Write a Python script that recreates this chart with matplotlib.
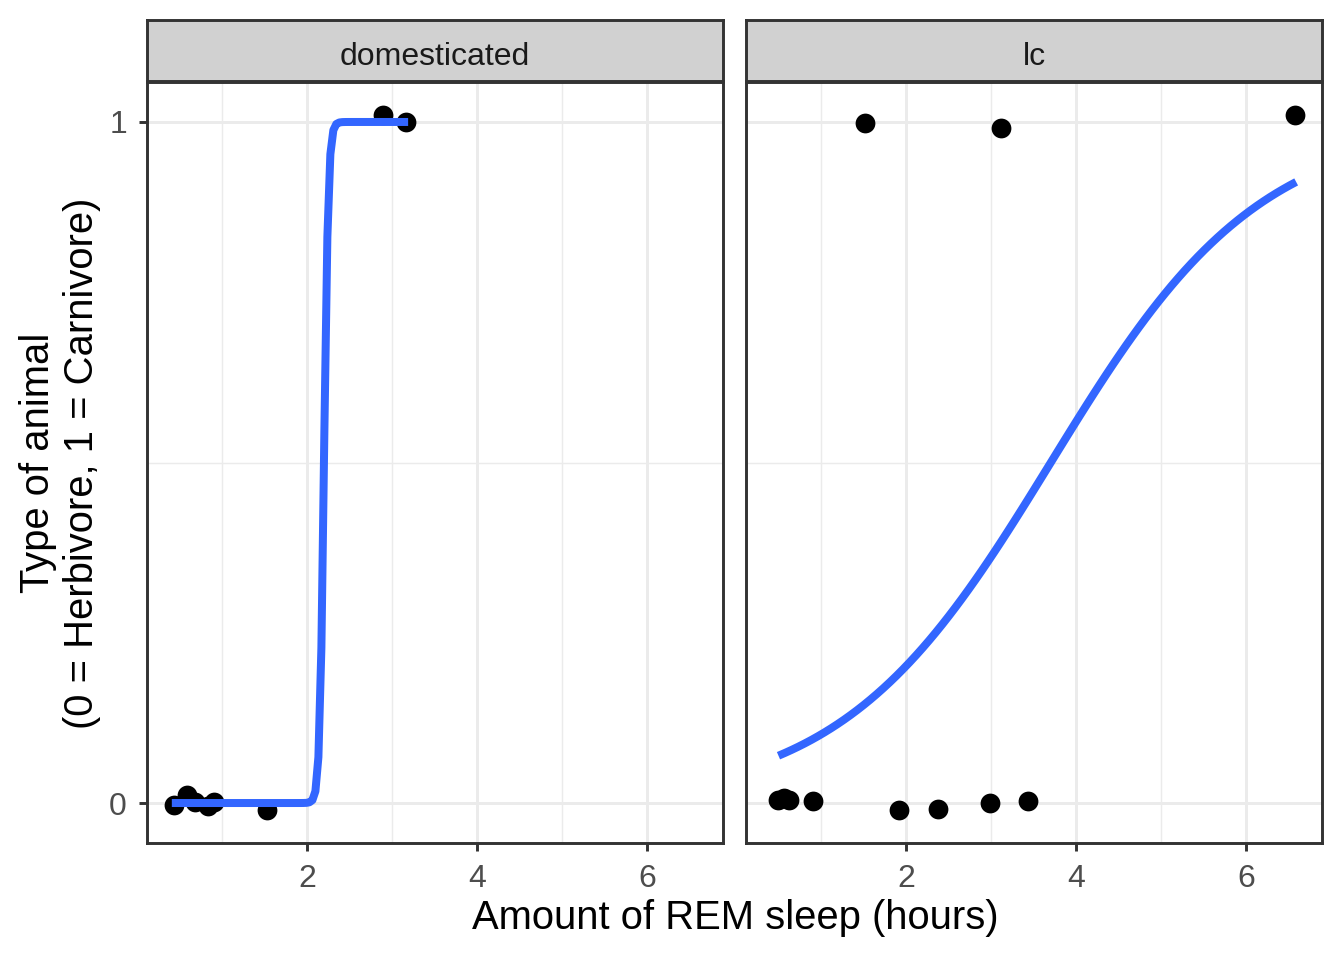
import matplotlib
matplotlib.use("Agg")
import matplotlib.pyplot as plt
import numpy as np

plt.rcParams['font.family'] = ['Liberation Sans', 'DejaVu Sans']

# facet names
panels = ["domesticated", "lc"]

# jittered points (REM hours, type 0/1)
dom_rem = [0.43, 0.59, 0.68, 0.84, 0.91, 1.53, 2.90, 3.17]
dom_type = [-0.003, 0.012, 0.002, -0.004, 0.001, -0.010, 1.010, 1.000]
lc_rem = [0.49, 0.57, 0.62, 0.91, 1.52, 1.92, 2.38, 2.99, 3.12, 3.44, 6.58]
lc_type = [0.004, 0.008, 0.005, 0.003, 0.999, -0.010, -0.009, 0.000, 0.991, 0.003, 1.010]

# binomial glm smooth: (intercept, slope) and x span
dom_fit = (-88.0, 40.0)
lc_fit = (-3.0, 0.81)
dom_span = (0.41, 3.19)
lc_span = (0.50, 6.59)

x_ticks = [2, 4, 6]
y_ticks = [0, 1]

W, H = 1344, 960
fig = plt.figure(figsize=(7, 5), dpi=192)

grey20 = "#333333"
grid_col = "#EBEBEB"
blue = "#3366FF"


def px_box(x0, y0, x1, y1):
    # pixel box (top-left origin) -> figure fraction rect
    return [x0 / W, 1 - y1 / H, (x1 - x0) / W, (y1 - y0) / H]


datasets = [
    (dom_rem, dom_type, dom_fit, dom_span),
    (lc_rem, lc_type, lc_fit, lc_span),
]
lefts = [(147, 723), (746, 1322)]

for i, (name, (xs, ys, fit, span), (l, r)) in enumerate(zip(panels, datasets, lefts)):
    ax = fig.add_axes(px_box(l, 82, r, 843))
    ax.set_xlim(0.118, 6.894)
    ax.set_ylim(-0.0587, 1.0587)

    # grid
    for v in [1, 3, 5]:
        ax.axvline(v, color=grid_col, lw=0.55, zorder=0)
    for v in x_ticks:
        ax.axvline(v, color=grid_col, lw=1.1, zorder=0)
    ax.axhline(0.5, color=grid_col, lw=0.55, zorder=0)
    for v in y_ticks:
        ax.axhline(v, color=grid_col, lw=1.1, zorder=0)

    ax.scatter(xs, ys, s=55, color="black", zorder=3, linewidths=0)

    b0, b1 = fit
    xx = np.linspace(span[0], span[1], 80)
    yy = 1 / (1 + np.exp(-(b0 + b1 * xx)))
    ax.plot(xx, yy, color=blue, lw=3.0, zorder=4, solid_capstyle="butt")

    ax.set_xticks(x_ticks)
    ax.set_xticklabels([str(t) for t in x_ticks])
    if i == 0:
        ax.set_yticks(y_ticks)
        ax.set_yticklabels([str(t) for t in y_ticks])
    else:
        ax.set_yticks([])
    ax.tick_params(axis="x", pad=5)
    ax.tick_params(axis="y", pad=4.5)
    ax.tick_params(axis="both", length=3.0, width=1.1, color=grey20,
                   labelsize=12, labelcolor="#4D4D4D")
    for sp in ax.spines.values():
        sp.set_color(grey20)
        sp.set_linewidth(1.1)

    # facet strip
    sax = fig.add_axes(px_box(l, 20, r, 81))
    sax.set_facecolor("#D1D1D1")
    sax.set_xticks([])
    sax.set_yticks([])
    for sp in sax.spines.values():
        sp.set_color(grey20)
        sp.set_linewidth(1.1)
    sax.text(0.5, 0.45, name, ha="center", va="center_baseline", fontsize=12,
             color="#1A1A1A", transform=sax.transAxes)

fig.text(735 / W, 1 - 918 / H, "Amount of REM sleep (hours)",
         ha="center", va="center", fontsize=15)
fig.text(60 / W, 1 - 463 / H, "Type of animal\n(0 = Herbivore, 1 = Carnivore)",
         ha="center", va="center", rotation=90, fontsize=15,
         multialignment="center")

fig.savefig("out.png", dpi=192, facecolor="white")
